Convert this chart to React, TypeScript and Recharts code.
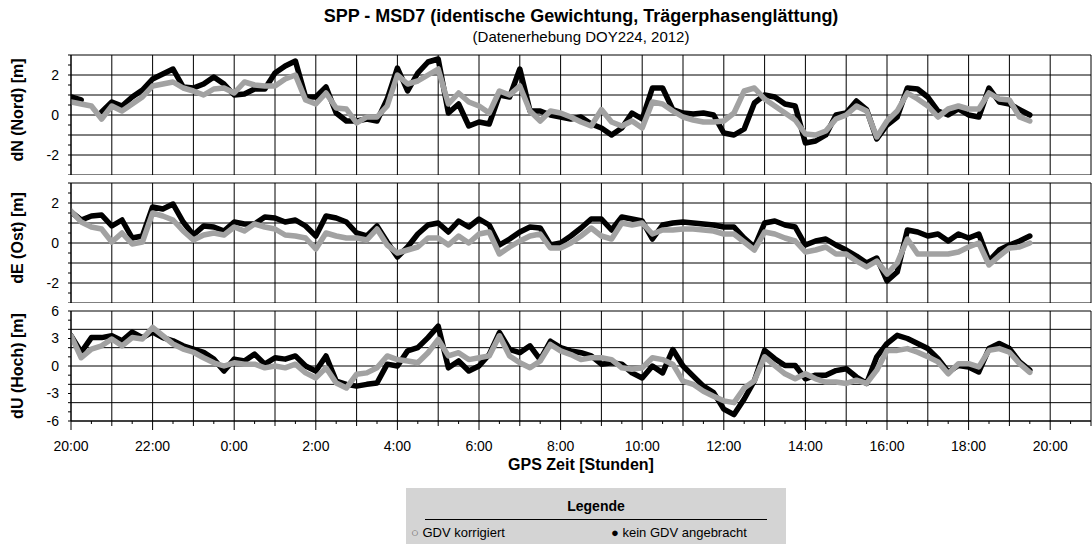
import React from "react";
import { LineChart, Line, XAxis, YAxis, CartesianGrid } from "recharts";

// sampling grid: every 15 min starting 20:00 (hours since 20:00)
const STEP_H = 0.25;

// dN (Nord) [m]
const N_KORR = [
  0.65, 0.55, 0.45, -0.2, 0.45, 0.2, 0.55, 0.9, 1.45, 1.55, 1.65, 1.35, 1.2, 1.0, 1.3, 1.35, 1.1,
  1.65, 1.5, 1.45, 1.45, 1.8, 2.0, 0.75, 0.55, 1.1, 0.35, 0.3, -0.4, -0.1, -0.1, 0.45, 2.0,
  1.55, 1.7, 2.0, 2.3, 0.55, 1.1, 0.65, 0.45, 0.1, 1.2, 1.0, 1.45, 0.2, -0.3, 0.2, 0.1, -0.1,
  -0.35, -0.55, 0.27, -0.35, -0.55, -0.3, -0.65, 0.65, 0.55, 0.2, -0.1, -0.25, -0.35, -0.35, -0.3, 0.1,
  1.2, 1.35, 0.8, 0.45, 0.1, -0.25, -0.95, -1.0, -0.8, -0.2, 0, 0.45, 0.2, -1.1, -0.3, 0.2,
  1.1, 0.8, 0.45, -0.1, 0.3, 0.45, 0.3, 0.3, 1.1, 0.8, 0.75, -0.1, -0.3,
];
const N_OHNE = [
  0.9, 0.75, null, 0.15, 0.65, 0.45, 0.9, 1.25, 1.8, 2.05, 2.3, 1.4, 1.35, 1.55, 1.9, 1.55, 1.0,
  1.05, 1.3, 1.3, 2.1, 2.45, 2.7, 0.9, 0.9, 1.4, 0.1, -0.3, -0.3, -0.2, -0.3, 0.8, 2.35,
  1.2, 2.1, 2.65, 2.8, 0.1, 0.55, -0.55, -0.35, -0.45, 1.0, 0.9, 2.3, 0.2, 0.2, 0, -0.1, -0.2,
  -0.1, -0.45, -0.65, -1.0, -0.65, 0.1, -0.2, 1.35, 1.35, 0.27, 0.1, 0.05, 0.1, 0, -0.9, -1.0,
  -0.7, 0.6, 1.0, 0.9, 0.55, 0.45, -1.4, -1.3, -1.0, 0, 0.1, 0.7, 0.27, -1.2, -0.5, -0.1,
  1.35, 1.3, 0.9, 0.2, 0, 0.3, 0, -0.1, 1.35, 0.65, 0.55, 0.27, 0,
];

// dE (Ost) [m]
const E_KORR = [
  1.6, 1.05, 0.8, 0.7, 0.05, 0.5, -0.05, 0.05, 1.5, 1.35, 1.15, 0.6, 0.15, 0.4, 0.5, 0.4, 0.8,
  0.6, 0.95, 0.8, 0.7, 0.4, 0.35, 0.25, -0.3, 0.5, 0.35, 0.25, 0.25, 0.15, 0.7, -0.1, -0.5,
  -0.35, -0.2, 0.25, 0.25, -0.1, 0.35, 0, 0.45, 0.55, -0.55, -0.2, 0.1, 0.35, 0.45, -0.25, -0.25, 0,
  0.35, 0.75, 0.35, 0.2, 1.0, 0.9, 1.0, 0.45, 0.65, 0.65, 0.7, 0.7, 0.65, 0.6, 0.45, 0.45,
  0.05, -0.35, 0.55, 0.45, 0.25, 0.1, -0.45, -0.35, -0.2, -0.55, -0.55, -0.9, -1.2, -0.9, -1.55, -1.0,
  0.2, -0.55, -0.55, -0.55, -0.55, -0.45, -0.2, 0, -1.1, -0.65, -0.25, -0.2, 0,
];
const E_OHNE = [
  1.55, 1.15, 1.35, 1.4, 0.85, 1.15, 0.25, 0.35, 1.8, 1.7, 1.95, 1.05, 0.4, 0.85, 0.8, 0.6, 1.05,
  0.95, 0.95, 1.3, 1.25, 1.05, 1.15, 0.85, 0.35, 1.35, 1.25, 1.05, 0.5, 0.35, 0.85, 0.05, -0.7,
  -0.2, 0.45, 0.9, 1.0, 0.55, 1.1, 0.8, 1.2, 0.9, -0.1, 0.2, 0.55, 0.8, 0.75, -0.1, 0, 0.35,
  0.75, 1.2, 1.2, 0.65, 1.3, 1.2, 1.1, 0.2, 0.9, 1.0, 1.05, 1.0, 0.95, 0.9, 0.8, 0.8,
  0.25, -0.2, 1.0, 1.1, 0.9, 0.8, -0.1, 0.1, 0.2, -0.1, -0.35, -0.65, -1.0, -0.75, -1.9, -1.45,
  0.65, 0.55, 0.35, 0.45, 0.1, 0.45, 0.25, 0.45, -0.9, -0.35, -0.1, 0.1, 0.35,
];

// dU (Hoch) [m]
const U_KORR = [
  3.3, 0.9, 1.85, 2.2, 2.95, 2.2, 3.1, 2.95, 4.2, 3.3, 2.4, 1.85, 1.5, 0.9, 0.35, 0, 0.35,
  0.2, 0.2, -0.2, 0, -0.2, 0.2, -0.75, -1.3, -0.2, -1.85, -2.4, -0.9, -0.75, -0.2, 1.1, 0.7,
  0.55, 0.35, 1.45, 2.9, 1.1, 1.45, 0.7, 0.9, 1.1, 3.3, 1.1, 0.35, -0.2, 0.55, 2.35, 1.65, 1.25,
  0.7, 0.9, 0.9, 0.7, -0.2, -0.35, -0.2, 0.9, 0.7, 0.2, -1.65, -2.0, -2.75, -3.3, -3.8, -4.0,
  -2.4, -1.6, 1.0, 0.05, -0.85, -1.4, -0.85, -1.4, -1.75, -1.75, -1.9, -1.55, -1.9, -0.45, 1.7, 1.7,
  1.9, 1.5, 1.0, 0.45, -0.85, 0.25, 0.25, -0.1, 1.7, 1.9, 1.5, 0.25, -0.7,
];
const U_OHNE = [
  3.3, 1.5, 3.1, 3.1, 3.3, 2.75, 3.7, 3.1, 3.7, 3.1, 2.75, 2.2, 1.85, 1.5, 0.75, -0.55, 0.75,
  0.55, 1.3, 0.2, 0.9, 0.75, 1.1, 0, -0.55, 1.1, -1.65, -2.0, -2.2, -2.0, -1.85, 0.2, 0,
  1.65, 2.0, 3.1, 4.35, -0.2, 0.55, -0.55, 0, 1.25, 3.65, 1.8, 1.45, 2.2, 0.7, 2.7, 2.0, 1.65,
  1.45, 1.1, 0.2, 0.35, 0.2, -0.75, -1.3, 0, -0.75, 1.8, 0, -1.1, -2.2, -2.9, -4.7, -5.3,
  -3.6, -1.6, 1.7, 0.8, 0.05, 0.05, -1.4, -1.0, -1.0, -0.5, -0.3, -1.2, -1.9, 1.0, 2.45, 3.35,
  3.0, 2.45, 1.9, 0.8, -0.65, 0.05, -0.1, -0.65, 1.9, 2.45, 1.9, 0.45, -0.45,
];

const HOUR_TICKS = Array.from({ length: 26 }, (_, i) => i);
const HALF_TICKS = Array.from({ length: 51 }, (_, i) => i * 0.5);

const data = N_KORR.map((_, i) => ({
  t: i * STEP_H,
  nK: N_KORR[i],
  nO: N_OHNE[i],
  eK: E_KORR[i],
  eO: E_OHNE[i],
  uK: U_KORR[i],
  uO: U_OHNE[i],
}));

const GREY = "#a2a2a2";
const FONT = "'Liberation Sans', Arial, Helvetica, sans-serif";
const W = 1092;
const PLOT_L = 71;
const PLOT_H = 110;
const CENTER_W = 1162; // centre of the plot area x2

function hourLabel(v: number) {
  return `${(20 + v) % 24}:00`;
}

const BottomTick = (props: any) => {
  const { x, y, payload } = props;
  const v = payload.value as number;
  const isLabel = v % 2 === 0;
  const len = isLabel ? 9 : Number.isInteger(v) ? 5 : 3;
  return (
    <g>
      <line x1={x} x2={x} y1={y} y2={y + len} stroke="#000" />
      {isLabel && (
        <text x={x} y={y + 30} textAnchor="middle" fontSize={14} fill="#000" fontFamily={FONT}>
          {hourLabel(v)}
        </text>
      )}
    </g>
  );
};

interface PanelProps {
  top: number;
  keyK: string;
  keyO: string;
  domain: [number, number];
  gridY: number[];
  ticksY: number[];
  labelsY: number[];
  title: string;
  bottom?: boolean;
}

function Panel({ top, keyK, keyO, domain, gridY, ticksY, labelsY, title, bottom }: PanelProps) {
  const mTop = 10;
  const mBottom = bottom ? 45 : 10;
  return (
    <div style={{ position: "absolute", left: 0, top: top - mTop }}>
      <LineChart
        width={W}
        height={PLOT_H + mTop + mBottom}
        data={data}
        margin={{ top: mTop, right: 1, bottom: 0, left: PLOT_L - 60 }}
      >
        <CartesianGrid
          stroke="#000"
          strokeWidth={1}
          verticalValues={HOUR_TICKS}
          horizontalValues={gridY}
          xAxisId="b"
        />
        <XAxis
          xAxisId="t"
          orientation="top"
          type="number"
          dataKey="t"
          domain={[0, 25]}
          ticks={HALF_TICKS}
          tickSize={4}
          height={0}
          tickFormatter={() => ""}
          stroke="#000"
          allowDataOverflow
        />
        <XAxis
          xAxisId="b"
          orientation="bottom"
          type="number"
          dataKey="t"
          domain={[0, 25]}
          ticks={HALF_TICKS}
          hide={!bottom}
          height={bottom ? mBottom : 0}
          tickSize={0}
          tickMargin={0}
          tick={<BottomTick />}
          interval={0}
          stroke="#000"
          allowDataOverflow
        />
        <YAxis
          type="number"
          domain={domain}
          ticks={ticksY}
          width={60}
          tickSize={3}
          tickMargin={9}
          interval={0}
          stroke="#000"
          tick={{ fill: "#000", fontSize: 14, fontFamily: FONT }}
          tickFormatter={(v: number) => (labelsY.includes(v) ? String(v) : "")}
          allowDataOverflow
        />
        <Line
          xAxisId="b"
          dataKey={keyO}
          stroke="#000"
          strokeWidth={5.5}
          strokeLinecap="round"
          strokeLinejoin="round"
          dot={false}
          isAnimationActive={false}
        />
        <Line
          xAxisId="b"
          dataKey={keyK}
          stroke={GREY}
          strokeWidth={5.5}
          strokeLinecap="round"
          strokeLinejoin="round"
          dot={false}
          isAnimationActive={false}
        />
      </LineChart>
      <svg
        width={30}
        height={PLOT_H}
        style={{ position: "absolute", left: 2, top: mTop }}
      >
        <text
          transform={`translate(21 ${PLOT_H / 2}) rotate(-90)`}
          textAnchor="middle"
          fontSize={16}
          fontWeight="bold"
          fontFamily={FONT}
        >
          {title}
        </text>
      </svg>
    </div>
  );
}

export default function App() {
  return (
    <div
      style={{
        position: "fixed",
        left: 0,
        top: 0,
        width: W,
        height: 544,
        background: "#fff",
        fontFamily: FONT,
        overflow: "hidden",
      }}
    >
      <div style={{ position: "absolute", left: 0, width: CENTER_W, top: 6, textAlign: "center", fontSize: 18, fontWeight: "bold" }}>
        SPP - MSD7 (identische Gewichtung, Trägerphasenglättung)
      </div>
      <div style={{ position: "absolute", left: 0, width: CENTER_W, top: 28, textAlign: "center", fontSize: 15 }}>
        (Datenerhebung DOY224, 2012)
      </div>

      <Panel
        top={55}
        keyK="nK"
        keyO="nO"
        domain={[-3, 3]}
        gridY={[-3, -2, -1, 0, 1, 2, 3]}
        ticksY={[-3, -2.5, -2, -1.5, -1, -0.5, 0, 0.5, 1, 1.5, 2, 2.5, 3]}
        labelsY={[-2, 0, 2]}
        title="dN (Nord) [m]"
      />
      <Panel
        top={182.5}
        keyK="eK"
        keyO="eO"
        domain={[-3, 3]}
        gridY={[-3, -2, -1, 0, 1, 2, 3]}
        ticksY={[-3, -2.5, -2, -1.5, -1, -0.5, 0, 0.5, 1, 1.5, 2, 2.5, 3]}
        labelsY={[-2, 0, 2]}
        title="dE (Ost) [m]"
      />
      <Panel
        top={310.5}
        keyK="uK"
        keyO="uO"
        domain={[-6, 6]}
        gridY={[-6, -4, -2, 0, 2, 4, 6]}
        ticksY={[-6, -5, -4, -3, -2, -1, 0, 1, 2, 3, 4, 5, 6]}
        labelsY={[-6, -3, 0, 3, 6]}
        title="dU (Hoch) [m]"
        bottom
      />

      <div style={{ position: "absolute", left: 0, width: CENTER_W, top: 456, textAlign: "center", fontSize: 16, fontWeight: "bold" }}>
        GPS Zeit [Stunden]
      </div>

      <div
        style={{
          position: "absolute",
          left: 406,
          top: 488,
          width: 380,
          height: 56,
          background: "#d4d4d4",
        }}
      >
        <div style={{ position: "absolute", left: 0, right: 0, top: 10, textAlign: "center", fontSize: 14, fontWeight: "bold" }}>
          Legende
        </div>
        <div style={{ position: "absolute", left: 19, right: 19, top: 31, borderTop: "1px solid #000" }} />
        <div style={{ position: "absolute", left: 5, top: 37, fontSize: 13, whiteSpace: "nowrap" }}>
          <span style={{ color: "#666" }}>○</span> GDV korrigiert
        </div>
        <div style={{ position: "absolute", left: 205, top: 37, fontSize: 13, whiteSpace: "nowrap" }}>
          ● kein GDV angebracht
        </div>
      </div>
    </div>
  );
}
